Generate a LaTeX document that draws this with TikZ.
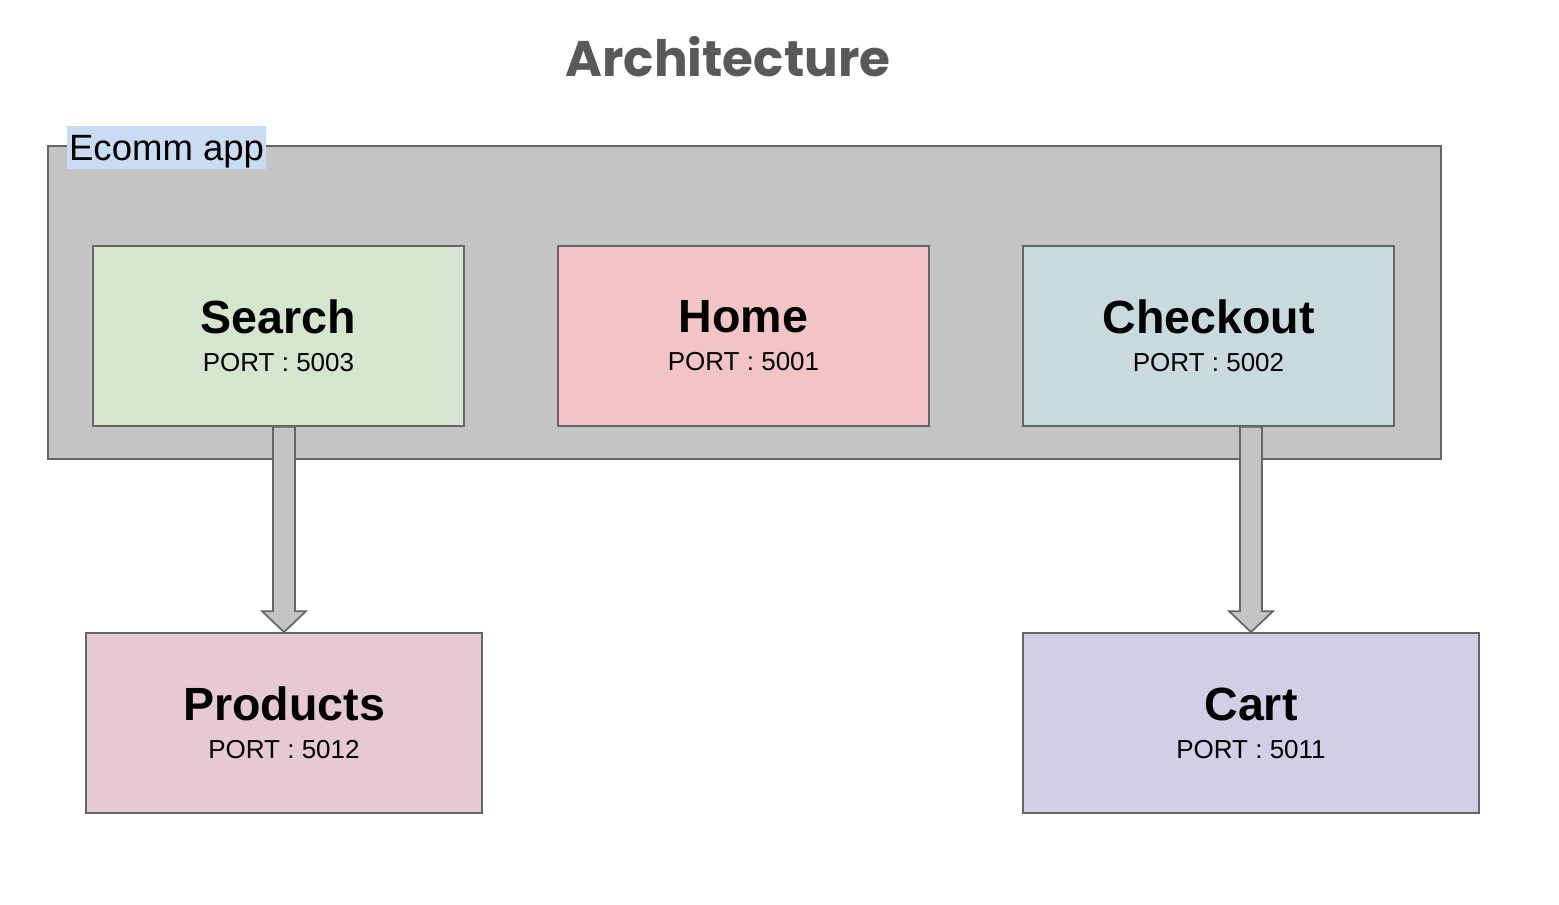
\documentclass[tikz,border=0pt]{standalone}
\usepackage{fontspec}
\setmainfont{Liberation Sans}
\newfontfamily\titlefont{Poppins}
\usetikzlibrary{positioning,calc}
\definecolor{appgray}{HTML}{C4C4C4}
\definecolor{edgegray}{HTML}{666666}
\definecolor{searchgreen}{HTML}{D5E6CE}
\definecolor{homered}{HTML}{F2C4C5}
\definecolor{checkblue}{HTML}{C9DADE}
\definecolor{prodpink}{HTML}{E7C9D4}
\definecolor{cartlilac}{HTML}{D4CDE6}
\definecolor{labelblue}{HTML}{C9DCF1}
\definecolor{titlegray}{HTML}{595959}
\newcommand{\namefont}{\fontsize{26.5}{30}\selectfont\bfseries}
\newcommand{\portfont}{\fontsize{14.8}{21.5}\selectfont}
\tikzset{
svcbox/.style={
  draw=edgegray,
  line width=1pt,
  fill=#1,
  minimum height=3.6cm,
  align=center,
  font=\portfont,
  inner sep=0pt
  },
fatarrow/.style={
  draw=edgegray,
  line width=1pt,
  fill=appgray
  }
}
\newcommand{\bigarrow}[2]{%
\draw[fatarrow] ($(#1.south -| #2.north)+(-11,0)$) -- ($(#2.north)+(-11,-21)$)
  -- ($(#2.north)+(-22,-21)$) -- (#2.north) -- ($(#2.north)+(22,-21)$)
  -- ($(#2.north)+(11,-21)$) -- ($(#1.south -| #2.north)+(11,0)$) -- cycle;}

\begin{document}
\begin{tikzpicture}[x=0.02cm,y=-0.02cm]
\useasboundingbox (0,0) rectangle (1559,905);

\node[text=titlegray,font=\titlefont\fontsize{28.5}{32}\selectfont\bfseries]
at (728,57) (title) {Architecture};

% app container
\node[draw=edgegray,line width=1pt,fill=appgray,minimum width=27.86cm,minimum height=6.26cm,inner sep=0pt]
at (744.5,302.5) (app) {};
\node[fill=labelblue,anchor=north west,inner xsep=1pt,inner ysep=0.07cm,
  text height=0.61cm,text depth=0.11cm,font=\fontsize{20.8}{24}\selectfont]
at (67,126) (applabel) {Ecomm app};

% services
\node[svcbox=searchgreen,minimum width=7.42cm] at (278.5,336) (search)
{\namefont Search\\PORT : 5003};
\node[svcbox=homered,minimum width=7.42cm] at (743.5,336) (home)
{\namefont Home\\PORT : 5001};
\node[svcbox=checkblue,minimum width=7.42cm] at (1208.5,336) (checkout)
{\namefont Checkout\\PORT : 5002};

\node[svcbox=prodpink,minimum width=7.92cm] at (284,723) (products)
{\namefont Products\\PORT : 5012};
\node[svcbox=cartlilac,minimum width=9.12cm] at (1251,723) (cart)
{\namefont Cart\\PORT : 5011};

\bigarrow{search}{products}
\bigarrow{checkout}{cart}
\end{tikzpicture}
\end{document}
